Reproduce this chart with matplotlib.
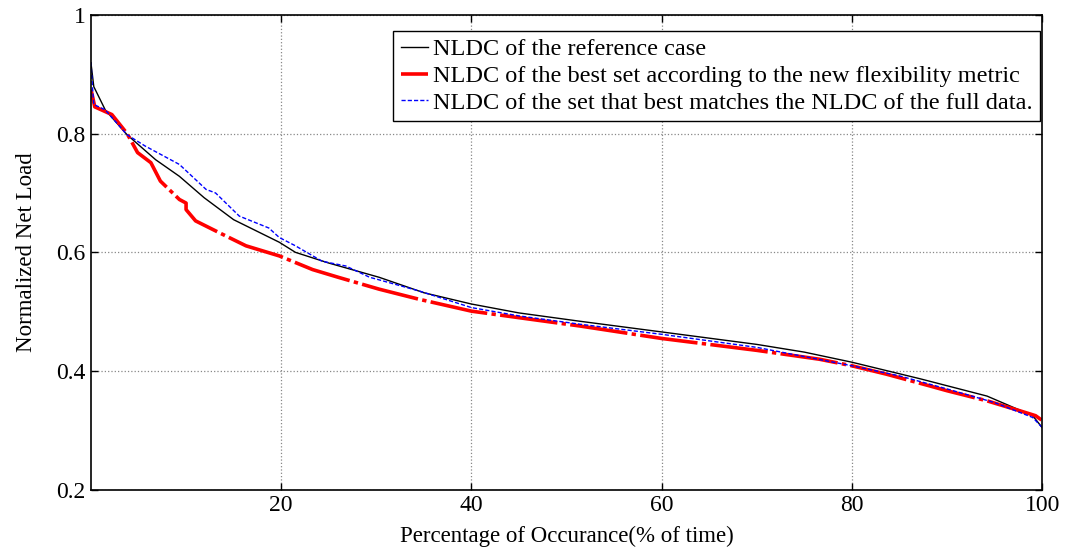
import matplotlib
matplotlib.use("Agg")
import matplotlib.pyplot as plt

plt.rcParams['font.family'] = ['Liberation Serif', 'DejaVu Serif']
plt.rcParams['mathtext.fontset'] = 'stix'

# Net load duration curves (percentage of time vs normalized net load)
ref_x = [0, 0.3, 1.5, 3.8, 6.8, 9.3, 11.9, 15.0, 19.8, 21.5, 25.0, 30.3, 35.0,
         40.0, 45.0, 51.4, 60.0, 70.0, 75.0, 80.0, 87.2, 94.2, 99.0, 100.0]
ref_y = [0.919, 0.879, 0.840, 0.798, 0.756, 0.728, 0.692, 0.655, 0.617, 0.600, 0.582, 0.558, 0.532,
         0.513, 0.498, 0.484, 0.466, 0.445, 0.432, 0.415, 0.387, 0.358, 0.325, 0.305]

best_x = [0, 0.2, 0.4, 2.2, 3.8, 4.9, 6.3, 7.3, 9.3, 10.0, 10.0, 11.0, 13.5, 16.3, 19.8,
          23.3, 26.0, 30.3, 34.5, 40.0, 45.0, 51.4, 60.0, 70.0, 76.6, 80.0, 83.6, 88.2,
          90.0, 94.2, 97.7, 99.3, 100.0]
best_y = [0.874, 0.860, 0.845, 0.832, 0.800, 0.768, 0.751, 0.720, 0.689, 0.683, 0.672, 0.653, 0.633, 0.611, 0.594,
          0.571, 0.558, 0.538, 0.521, 0.501, 0.490, 0.476, 0.455, 0.435, 0.420, 0.409, 0.395, 0.375,
          0.367, 0.350, 0.333, 0.325, 0.317]

match_x = [0, 0.15, 0.3, 1.5, 3.8, 5.7, 9.3, 10.5, 12.1, 13.1, 15.6, 18.7, 19.8, 21.5, 24.3,
           26.8, 29.3, 30.0, 34.5, 40.0, 45.0, 51.4, 60.0, 70.0, 80.0, 85.0, 90.0, 95.0, 99.0, 100.0]
match_y = [0.920, 0.880, 0.849, 0.840, 0.798, 0.779, 0.748, 0.730, 0.706, 0.700, 0.661, 0.641, 0.625, 0.611, 0.585,
           0.577, 0.558, 0.555, 0.535, 0.507, 0.493, 0.479, 0.462, 0.440, 0.409, 0.392, 0.370, 0.347, 0.322, 0.305]

labels = ['NLDC of the reference case',
          'NLDC of the best set according to the new flexibility metric',
          'NLDC of the set that best matches the NLDC of the full data.']

fig = plt.figure(figsize=(10.7, 5.48), dpi=100)
ax = fig.add_axes([0.085, 0.106, 0.889, 0.867])

ax.plot(ref_x, ref_y, color='black', lw=1.0, label=labels[0])
ax.plot(best_x, best_y, color='red', lw=2.6, dashes=(16, 1.2, 1.2, 1.2), label=labels[1])
ax.plot(match_x, match_y, color='blue', lw=1.0, dashes=(3, 1.5), label=labels[2])

ax.set_xlim(0, 100)
ax.set_ylim(0.2, 1.0)
ax.set_xticks([20, 40, 60, 80, 100])
ax.set_yticks([0.2, 0.4, 0.6, 0.8, 1.0])
ax.set_yticklabels(['0.2', '0.4', '0.6', '0.8', '1'])
ax.tick_params(direction='in', top=True, right=True, length=5, width=1, labelsize=17, pad=4)
ax.grid(True, color='#888888', linestyle=':', linewidth=0.9)
for s in ax.spines.values():
    s.set_linewidth(1.2)

ax.set_xlabel('Percentage of Occurance(% of time)', fontsize=16.5, labelpad=7)
ax.set_ylabel('Normalized Net Load', fontsize=16.5, labelpad=14)

leg = ax.legend(loc='upper right', bbox_to_anchor=(0.998, 0.966), fontsize=17.5,
                handlelength=1.15, handletextpad=0.2, labelspacing=0.2,
                borderpad=0.3, borderaxespad=0, fancybox=False, framealpha=1)
leg.get_frame().set_edgecolor('black')
leg.get_frame().set_linewidth(1.0)

fig.savefig('out.png', dpi=100)
